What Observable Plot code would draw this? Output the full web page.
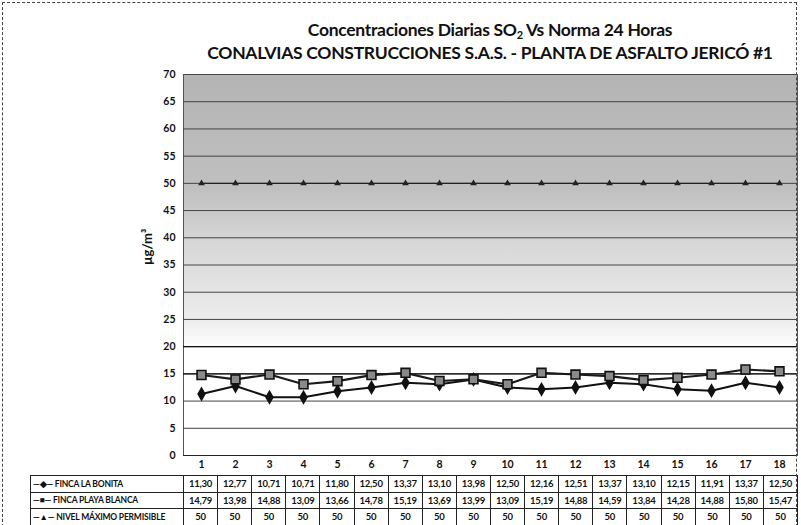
<!DOCTYPE html>
<html><head><meta charset="utf-8">
<script src="https://cdn.jsdelivr.net/npm/d3@7"></script>
<script src="https://cdn.jsdelivr.net/npm/@observablehq/plot@0.6"></script>
<style>
body{margin:0;background:#fff;}
#wrap{position:relative;width:801px;height:525px;overflow:hidden;font-family:Lato,"Open Sans",sans-serif;color:#111;}
#border{position:absolute;left:2px;top:2px;width:795px;height:530px;border:1px dashed #444;box-sizing:border-box;pointer-events:none;}
#title{position:absolute;left:183px;width:614px;top:18px;text-align:center;font-weight:bold;font-size:17.5px;line-height:23px;color:#111;letter-spacing:-0.3px;}
#title sub{font-size:11px;vertical-align:-3px;line-height:0;}
#chart{position:absolute;left:0;top:62px;}
table{position:absolute;left:30px;top:475px;border-collapse:collapse;table-layout:fixed;width:767px;font-family:Lato,sans-serif;font-weight:bold;font-size:9.5px;letter-spacing:-0.2px;}
td{border:1px solid #222;border-left:1px dotted #444;height:15.5px;padding:0;text-align:center;white-space:nowrap;overflow:hidden;}
td.lab{text-align:left;font-size:8.5px;border-left:1px solid #222;padding-left:2px;}
</style>
</head><body>
<div id="wrap">
  <div id="title">Concentraciones Diarias SO<sub>2</sub> Vs Norma 24 Horas<br>CONALVIAS CONSTRUCCIONES S.A.S. - PLANTA DE ASFALTO JERICÓ #1</div>
  <div id="chart"></div>
  <table id="tbl"></table>
  <div id="border"></div>
</div>
<script>
const days = [1,2,3,4,5,6,7,8,9,10,11,12,13,14,15,16,17,18];
const fincaLaBonita = [11.30,12.77,10.71,10.71,11.80,12.50,13.37,13.10,13.98,12.50,12.16,12.51,13.37,13.10,12.15,11.91,13.37,12.50];
const fincaPlayaBlanca = [14.79,13.98,14.88,13.09,13.66,14.78,15.19,13.69,13.99,13.09,15.19,14.88,14.59,13.84,14.28,14.88,15.80,15.47];
const nivelMaximo = [50,50,50,50,50,50,50,50,50,50,50,50,50,50,50,50,50,50];
const seriesNames = ["FINCA LA BONITA","FINCA PLAYA BLANCA","NIVEL MÁXIMO PERMISIBLE"];
const yTicks = [0,5,10,15,20,25,30,35,40,45,50,55,60,65,70];

const seriesVals = [fincaLaBonita, fincaPlayaBlanca, nivelMaximo];
const rows = [];
seriesNames.forEach((s,i)=>days.forEach((d,j)=>rows.push({serie:s, day:d, value:seriesVals[i][j]})));
const bySerie = s => rows.filter(r=>r.serie===s);

const chart = Plot.plot({
  width: 801, height: 412,
  marginTop: 12, marginBottom: 19, marginLeft: 183, marginRight: 4,
  style: {fontFamily: "Lato, sans-serif", fontSize: "10.5px", fontWeight: "bold", background: "transparent", color: "#111"},
  x: {type: "point", domain: days, padding: 0.5, label: null, tickSize: 0, tickPadding: 5},
  y: {domain: [0,70], ticks: yTicks, label: null, tickSize: 0, tickPadding: 8},
  marks: [
    Plot.frame({fill: "url(#bgGrad)", stroke: "#555"}),
    Plot.ruleY(yTicks.filter(d=>d>0), {stroke: "#444", strokeWidth: 1}),
    Plot.ruleY([15,20], {stroke: "#111", strokeWidth: 1.3}),
    Plot.ruleY([0], {stroke: "#222"}),
    Plot.line(bySerie(seriesNames[2]), {x: "day", y: "value", stroke: "#222", strokeWidth: 1.2}),
    Plot.dot(bySerie(seriesNames[2]), {x: "day", y: "value", symbol: "triangle", r: 2.5, fill: "#222"}),
    Plot.line(bySerie(seriesNames[0]), {x: "day", y: "value", stroke: "#111", strokeWidth: 2}),
    Plot.dot(bySerie(seriesNames[0]), {x: "day", y: "value", symbol: "diamond", r: 4.5, fill: "#111"}),
    Plot.line(bySerie(seriesNames[1]), {x: "day", y: "value", stroke: "#1a1a1a", strokeWidth: 2.2}),
    Plot.dot(bySerie(seriesNames[1]), {x: "day", y: "value", symbol: "square", r: 5, fill: "#8a8a8a", stroke: "#111", strokeWidth: 1.6}),
    Plot.text(["µg/m³"], {frameAnchor: "left", dx: -36, rotate: -90, fontSize: 13, fontWeight: "bold"})
  ]
});
const ns = "http://www.w3.org/2000/svg";
const defs = document.createElementNS(ns, "defs");
defs.innerHTML = `<linearGradient id="bgGrad" x1="0" y1="0" x2="0" y2="1">
<stop offset="0" stop-color="#b4b4b4"/><stop offset="0.3" stop-color="#c0c0c0"/>
<stop offset="0.45" stop-color="#d8d8d8"/><stop offset="0.64" stop-color="#ececec"/>
<stop offset="0.72" stop-color="#ffffff"/><stop offset="1" stop-color="#ffffff"/></linearGradient>`;
chart.insertBefore(defs, chart.firstChild);
document.getElementById("chart").appendChild(chart);

// data table below the chart
const tbl = document.getElementById("tbl");
const cg = document.createElement("colgroup");
cg.innerHTML = `<col style="width:153px">` + days.map(()=>`<col style="width:${614/18}px">`).join("");
tbl.appendChild(cg);
const keys = ["—◆—","—■—","—▲—"];
seriesNames.forEach((s,i)=>{
  const tr = document.createElement("tr");
  const lab = document.createElement("td");
  lab.className = "lab";
  lab.textContent = keys[i] + " " + s;
  tr.appendChild(lab);
  seriesVals[i].forEach(v=>{
    const td = document.createElement("td");
    td.textContent = i===2 ? String(v) : v.toFixed(2).replace(".", ",");
    tr.appendChild(td);
  });
  tbl.appendChild(tr);
});
</script>
</body></html>
